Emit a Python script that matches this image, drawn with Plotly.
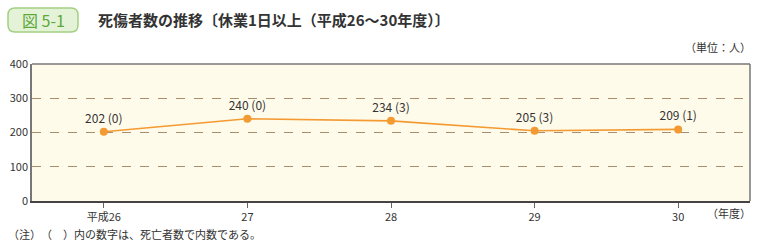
import plotly.graph_objects as go

years = ["平成26", "27", "28", "29", "30"]
casualties = [202, 240, 234, 205, 209]
deaths = [0, 0, 3, 3, 1]
y_ticks = [0, 100, 200, 300, 400]

labels = [f"{c} ({d})" for c, d in zip(casualties, deaths)]
xs = list(range(len(years)))

FONT = "Noto Sans CJK JP"
L, R, T, B = 32, 10, 64, 44
PW, PH = 760 - L - R, 245 - T - B


def px(x):
    return (x - L) / PW


def py(y):
    return (245 - B - y) / PH


fig = go.Figure()
fig.add_trace(go.Scatter(
    x=xs, y=casualties, mode="lines+markers+text",
    line=dict(color="#F39A33", width=1.6),
    marker=dict(color="#F39A33", size=8),
    text=labels, textposition="top center",
    textfont=dict(family=FONT, size=12, color="#333333"),
    cliponaxis=False, showlegend=False, hoverinfo="skip",
))

fig.update_layout(
    width=760, height=245,
    margin=dict(l=L, r=R, t=T, b=B),
    paper_bgcolor="white",
    plot_bgcolor="#FFFBEA",
    font=dict(family=FONT, size=11, color="#333333"),
    xaxis=dict(
        range=[-0.5, 4.5], tickmode="array", tickvals=xs, ticktext=years,
        showgrid=False, zeroline=False,
        showline=True, linecolor="#444444", linewidth=1.5, mirror=False,
        ticks="outside", ticklen=5, tickcolor="#666666",
        tickfont=dict(family=FONT, size=11, color="#333333"),
    ),
    yaxis=dict(
        range=[0, 400], tickmode="array", tickvals=y_ticks,
        showgrid=True, gridcolor="#A98E6E", griddash="dash", gridwidth=1,
        zeroline=False,
        showline=True, linecolor="#777777", linewidth=1.5, mirror=False,
        ticks="", tickfont=dict(family=FONT, size=11, color="#333333"),
    ),
)

# top and right border
fig.add_shape(type="line", xref="paper", yref="paper", x0=0, x1=1, y0=1, y1=1,
              line=dict(color="#777777", width=1.5))
fig.add_shape(type="line", xref="paper", yref="paper", x0=1, x1=1, y0=0, y1=1,
              line=dict(color="#777777", width=1.5))

# rounded title badge
x0, x1, y0, y1, r = 8, 78, 8, 32, 7
path = (
    f"M {px(x0 + r)} {py(y0)} L {px(x1 - r)} {py(y0)} "
    f"Q {px(x1)} {py(y0)} {px(x1)} {py(y0 + r)} L {px(x1)} {py(y1 - r)} "
    f"Q {px(x1)} {py(y1)} {px(x1 - r)} {py(y1)} L {px(x0 + r)} {py(y1)} "
    f"Q {px(x0)} {py(y1)} {px(x0)} {py(y1 - r)} L {px(x0)} {py(y0 + r)} "
    f"Q {px(x0)} {py(y0)} {px(x0 + r)} {py(y0)} Z"
)
fig.add_shape(type="path", xref="paper", yref="paper", path=path,
              fillcolor="#E4F2D8", line=dict(color="#A3D081", width=1.5), layer="above")
fig.add_annotation(
    xref="paper", yref="paper", x=px(43), y=py(20),
    xanchor="center", yanchor="middle",
    text="図 5-1", showarrow=False,
    font=dict(family=FONT, size=16, color="#5CA83A"),
)
fig.add_annotation(
    xref="paper", yref="paper", x=px(96), y=py(19),
    xanchor="left", yanchor="middle",
    text="<b>死傷者数の推移〔休業1日以上（平成26～30年度）〕</b>", showarrow=False,
    font=dict(family=FONT, size=15, color="#333333"),
)
fig.add_annotation(
    xref="paper", yref="paper", x=px(753), y=py(47),
    xanchor="right", yanchor="middle",
    text="（単位：人）", showarrow=False,
    font=dict(family=FONT, size=11, color="#333333"),
)
fig.add_annotation(
    xref="paper", yref="paper", x=px(753), y=py(213),
    xanchor="right", yanchor="middle",
    text="（年度）", showarrow=False,
    font=dict(family=FONT, size=11, color="#333333"),
)
fig.add_annotation(
    xref="paper", yref="paper", x=px(6), y=py(234),
    xanchor="left", yanchor="middle",
    text="（注）　（　）内の数字は、死亡者数で内数である。", showarrow=False,
    font=dict(family=FONT, size=11, color="#333333"),
)

fig.write_html("out.html")
